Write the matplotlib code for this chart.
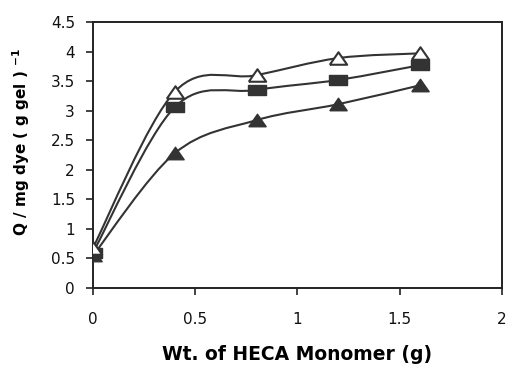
import numpy as np
import matplotlib
matplotlib.use('Agg')
import matplotlib.pyplot as plt
from matplotlib.path import Path
from matplotlib.patches import PathPatch

plt.rcParams['font.family'] = ['DejaVu Sans']

# Daten
heca = [0, 0.4, 0.8, 1.2, 1.6]
offen_dreieck = [0.68, 3.32, 3.60, 3.89, 3.97]
quadrat = [0.60, 3.06, 3.35, 3.52, 3.77]
voll_dreieck = [0.55, 2.28, 2.84, 3.11, 3.43]

farbe = '#333333'

# breite Marker wie im Original (horizontal gestreckt)
dreieck = [(-1, -0.72), (1, -0.72), (0, 0.72), (-1, -0.72)]
rechteck = [(-1, -0.61), (1, -0.61), (1, 0.61), (-1, 0.61), (-1, -0.61)]


def glatte_linie(ax, x, y):
    # Excel-artige Glaettung (Catmull-Rom als Bezier)
    p = np.column_stack([x, y])
    n = len(p)
    verts = [p[0]]
    codes = [Path.MOVETO]
    for i in range(n - 1):
        p0 = p[i - 1] if i > 0 else p[i]
        p3 = p[i + 2] if i + 2 < n else p[i + 1]
        c1 = p[i] + (p[i + 1] - p0) / 6
        c2 = p[i + 1] - (p3 - p[i]) / 6
        verts += [c1, c2, p[i + 1]]
        codes += [Path.CURVE4] * 3
    ax.add_patch(PathPatch(Path(verts, codes), fill=False, edgecolor=farbe,
                           lw=1.5, zorder=2))


fig = plt.figure(figsize=(5.09, 3.68), dpi=100)
ax = fig.add_axes([0.1827, 0.2174, 0.8035, 0.7228])

for werte in [voll_dreieck, quadrat, offen_dreieck]:
    glatte_linie(ax, heca, werte)

ax.plot(heca, voll_dreieck, linestyle='none', marker=dreieck, markersize=12.5,
        color=farbe, markeredgecolor=farbe, zorder=3)
ax.plot(heca, quadrat, linestyle='none', marker=rechteck, markersize=12.5,
        color=farbe, markeredgecolor=farbe, zorder=3)
ax.plot(heca, offen_dreieck, linestyle='none', marker=dreieck, markersize=12.5,
        markerfacecolor='white', markeredgecolor=farbe, markeredgewidth=1.5,
        zorder=4)

ax.set_xlim(0, 2)
ax.set_ylim(0, 4.5)
ax.set_xticks([0, 0.5, 1, 1.5, 2])
ax.set_xticklabels(['0', '0.5', '1', '1.5', '2'])
ax.set_yticks(np.arange(0, 4.51, 0.5))
ax.set_yticklabels(['0', '0.5', '1', '1.5', '2', '2.5', '3', '3.5', '4', '4.5'])
ax.tick_params(direction='out', length=5, width=1.2, color='#222222',
               labelsize=11, labelcolor='#111111')
ax.tick_params(axis='x', pad=12)
ax.tick_params(axis='y', pad=8)
for s in ax.spines.values():
    s.set_linewidth(1.4)
    s.set_color('#222222')

ax.set_xlabel('Wt. of HECA Monomer (g)', fontsize=13.5, fontweight='bold',
              labelpad=13)
ax.set_ylabel('Q / mg dye ( g gel ) $^{\\mathbf{-1}}$', fontsize=11,
              fontweight='bold')
ax.yaxis.set_label_coords(-0.15, 0.55)

fig.savefig('out.png', dpi=100)
